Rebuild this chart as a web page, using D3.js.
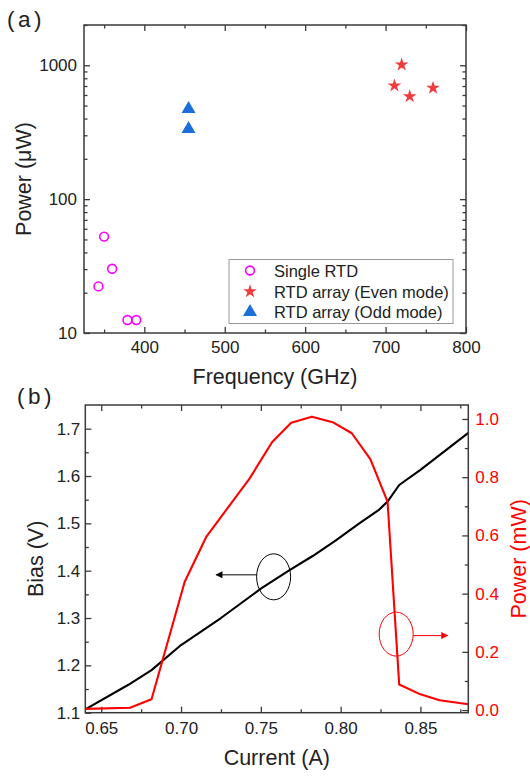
<!DOCTYPE html>
<html>
<head>
<meta charset="utf-8">
<script src="https://cdn.jsdelivr.net/npm/d3@7"></script>
<style>
  html, body { margin: 0; padding: 0; background: #fff; }
  svg { display: block; font-family: "Liberation Sans", Arial, sans-serif; }
</style>
</head>
<body>
<svg id="chart" width="530" height="777"></svg>
<script>
// ---- Panel (a): output power vs oscillation frequency ----
const freqSingle  = [350, 360, 343, 379, 390];
const powerSingle = [52.5, 30.2, 22.3, 12.5, 12.5];
const freqEven    = [720, 711, 730, 759];
const powerEven   = [1010, 705, 586, 677];
const freqOdd     = [455, 455];
const powerOdd    = [471, 334];
const freqTicks   = [400, 500, 600, 700, 800];
const freqMinor   = [350, 450, 550, 650, 750];
const powTicks    = [10, 100, 1000];
const legendLabels = ["Single RTD", "RTD array (Even mode)", "RTD array (Odd mode)"];

// ---- Panel (b): bias and power vs current ----
const currentBias = [0.640, 0.667, 0.6815, 0.700, 0.725, 0.750, 0.768, 0.7825, 0.797, 0.8117, 0.8242, 0.8294, 0.8367, 0.850, 0.880];
const bias        = [1.107, 1.159, 1.190, 1.243, 1.300, 1.362, 1.401, 1.431, 1.464, 1.500, 1.529, 1.546, 1.581, 1.613, 1.691];
const currentPow  = [0.640, 0.668, 0.6815, 0.7023, 0.7159, 0.743, 0.757, 0.769, 0.782, 0.795, 0.807, 0.8186, 0.8294, 0.8367, 0.850, 0.862, 0.880];
const powerMW     = [0.004, 0.008, 0.037, 0.441, 0.596, 0.796, 0.920, 0.987, 1.008, 0.989, 0.951, 0.862, 0.716, 0.088, 0.054, 0.034, 0.020];
const currentTicks = [0.65, 0.70, 0.75, 0.80, 0.85];
const currentMinor = [0.675, 0.725, 0.775, 0.825, 0.875];
const biasTicks    = [1.1, 1.2, 1.3, 1.4, 1.5, 1.6, 1.7];
const biasMinor    = [1.15, 1.25, 1.35, 1.45, 1.55, 1.65];
const pwTicks      = [0.0, 0.2, 0.4, 0.6, 0.8, 1.0];
const pwMinor      = [0.1, 0.3, 0.5, 0.7, 0.9];

const svg = d3.select("#chart");
const AX = "#3a3a3a";
const TICK_FS = 17, TITLE_FS = 21.5;

function styleAxis(g) {
  g.select(".domain").remove();
  g.selectAll(".tick line").attr("stroke", AX).attr("stroke-width", 1.3);
  g.selectAll(".tick text").attr("font-size", TICK_FS).attr("fill", "#222");
}

// ===== Panel (a) =====
const A = { l: 84, t: 25, r: 466, b: 333 };
const xa = d3.scaleLinear().domain([325, 800]).range([A.l, A.r]);
const ya = d3.scaleLog().domain([10, 2000]).range([A.b, A.t]);
const logMinor = [];
[10, 100, 1000].forEach(d => { for (let k = 2; k <= 9; k++) if (d * k <= 2000) logMinor.push(d * k); });

const ga = svg.append("g");
ga.append("g").attr("transform", `translate(0,${A.b})`)
  .call(d3.axisBottom(xa).tickValues(freqTicks).tickSize(-6).tickPadding(8).tickFormat(d3.format("d")))
  .call(styleAxis);
ga.append("g").attr("transform", `translate(0,${A.b})`)
  .call(d3.axisBottom(xa).tickValues(freqMinor).tickSize(-3.5).tickFormat("")).call(styleAxis);
ga.append("g").attr("transform", `translate(0,${A.t})`)
  .call(d3.axisTop(xa).tickValues(freqTicks).tickSize(-6).tickFormat("")).call(styleAxis);
ga.append("g").attr("transform", `translate(0,${A.t})`)
  .call(d3.axisTop(xa).tickValues(freqMinor).tickSize(-3.5).tickFormat("")).call(styleAxis);
ga.append("g").attr("transform", `translate(${A.l},0)`)
  .call(d3.axisLeft(ya).tickValues(powTicks).tickSize(-6).tickPadding(7).tickFormat(d3.format("d")))
  .call(styleAxis);
ga.append("g").attr("transform", `translate(${A.l},0)`)
  .call(d3.axisLeft(ya).tickValues(logMinor).tickSize(-3.5).tickFormat("")).call(styleAxis);
ga.append("g").attr("transform", `translate(${A.r},0)`)
  .call(d3.axisRight(ya).tickValues(powTicks).tickSize(-6).tickFormat("")).call(styleAxis);
ga.append("g").attr("transform", `translate(${A.r},0)`)
  .call(d3.axisRight(ya).tickValues(logMinor).tickSize(-3.5).tickFormat("")).call(styleAxis);
ga.append("rect").attr("x", A.l).attr("y", A.t).attr("width", A.r - A.l).attr("height", A.b - A.t)
  .attr("fill", "none").attr("stroke", AX).attr("stroke-width", 1.5);

// markers
const starPath = d3.symbol().type(d3.symbolStar).size(58)();
const triPath = d3.symbol().type(d3.symbolTriangle).size(85)();
const COL_SINGLE = "#ff00ff", COL_EVEN = "#f03c3c", COL_ODD = "#1c6fd8";

ga.selectAll("circle.single").data(freqSingle).join("circle")
  .attr("cx", d => xa(d)).attr("cy", (d, i) => ya(powerSingle[i])).attr("r", 4.4)
  .attr("fill", "none").attr("stroke", COL_SINGLE).attr("stroke-width", 1.6);
ga.selectAll("path.even").data(freqEven).join("path")
  .attr("d", starPath).attr("transform", (d, i) => `translate(${xa(d)},${ya(powerEven[i])})`)
  .attr("fill", COL_EVEN);
ga.selectAll("path.odd").data(freqOdd).join("path")
  .attr("d", triPath).attr("transform", (d, i) => `translate(${xa(d)},${ya(powerOdd[i])})`)
  .attr("fill", COL_ODD);

// legend
const lg = ga.append("g");
lg.append("rect").attr("x", 229).attr("y", 259.5).attr("width", 224).attr("height", 64)
  .attr("fill", "#fff").attr("stroke", "#999").attr("stroke-width", 1);
const rowY = [270.5, 291.5, 312];
lg.append("circle").attr("cx", 250).attr("cy", rowY[0]).attr("r", 4.4)
  .attr("fill", "none").attr("stroke", COL_SINGLE).attr("stroke-width", 1.6);
lg.append("path").attr("d", starPath).attr("transform", `translate(250,${rowY[1]})`).attr("fill", COL_EVEN);
lg.append("path").attr("d", triPath).attr("transform", `translate(250,${rowY[2]})`).attr("fill", COL_ODD);
lg.selectAll("text").data(legendLabels).join("text")
  .attr("x", 274).attr("y", (d, i) => rowY[i] + 6).attr("font-size", 16.5).attr("fill", "#222").text(d => d);

ga.append("text").attr("x", (A.l + A.r) / 2).attr("y", 384).attr("text-anchor", "middle")
  .attr("font-size", TITLE_FS).attr("fill", "#222").text("Frequency (GHz)");
ga.append("text").attr("transform", `translate(31,${(A.t + A.b) / 2}) rotate(-90)`).attr("text-anchor", "middle")
  .attr("font-size", TITLE_FS).attr("fill", "#222").text("Power (μW)");
svg.append("text").attr("x", 7).attr("y", 27).attr("font-size", 22.5).attr("letter-spacing", 3.5)
  .attr("fill", "#222").text("(a)");

// ===== Panel (b) =====
const B = { l: 85.3, t: 405, r: 468.3, b: 712.7 };
const xb = d3.scaleLinear().domain([0.64, 0.88]).range([B.l, B.r]);
const yb = d3.scaleLinear().domain([1.1, 1.75]).range([B.b, B.t]);
const yp = d3.scaleLinear().domain([-0.009, 1.048]).range([B.b, B.t]);

const gb = svg.append("g");
gb.append("g").attr("transform", `translate(0,${B.b})`)
  .call(d3.axisBottom(xb).tickValues(currentTicks).tickSize(-6).tickPadding(9).tickFormat(d3.format(".2f")))
  .call(styleAxis);
gb.append("g").attr("transform", `translate(0,${B.b})`)
  .call(d3.axisBottom(xb).tickValues(currentMinor).tickSize(-3.5).tickFormat("")).call(styleAxis);
gb.append("g").attr("transform", `translate(0,${B.t})`)
  .call(d3.axisTop(xb).tickValues(currentTicks).tickSize(-6).tickFormat("")).call(styleAxis);
gb.append("g").attr("transform", `translate(0,${B.t})`)
  .call(d3.axisTop(xb).tickValues(currentMinor).tickSize(-3.5).tickFormat("")).call(styleAxis);
gb.append("g").attr("transform", `translate(${B.l},0)`)
  .call(d3.axisLeft(yb).tickValues(biasTicks).tickSize(-6).tickPadding(5).tickFormat(d3.format(".1f")))
  .call(styleAxis);
gb.append("g").attr("transform", `translate(${B.l},0)`)
  .call(d3.axisLeft(yb).tickValues(biasMinor).tickSize(-3.5).tickFormat("")).call(styleAxis);
gb.append("g").attr("transform", `translate(${B.r},0)`)
  .call(d3.axisRight(yp).tickValues(pwTicks).tickSize(-6).tickPadding(7).tickFormat(d3.format(".1f")))
  .call(styleAxis)
  .call(g => g.selectAll(".tick text").attr("fill", "#ff0000"));
gb.append("g").attr("transform", `translate(${B.r},0)`)
  .call(d3.axisRight(yp).tickValues(pwMinor).tickSize(-3.5).tickFormat("")).call(styleAxis);

const lineBias = d3.line().x(d => xb(d[0])).y(d => yb(d[1]));
const linePow = d3.line().x(d => xb(d[0])).y(d => yp(d[1]));
gb.append("path").datum(currentBias.map((c, i) => [c, bias[i]]))
  .attr("d", lineBias).attr("fill", "none").attr("stroke", "#000").attr("stroke-width", 2.1)
  .attr("stroke-linejoin", "round");
gb.append("path").datum(currentPow.map((c, i) => [c, powerMW[i]]))
  .attr("d", linePow).attr("fill", "none").attr("stroke", "#ff0000").attr("stroke-width", 2.1)
  .attr("stroke-linejoin", "round");

gb.append("rect").attr("x", B.l).attr("y", B.t).attr("width", B.r - B.l).attr("height", B.b - B.t)
  .attr("fill", "none").attr("stroke", AX).attr("stroke-width", 1.5);

// series annotations: ellipse around each curve with an arrow pointing to its axis
const defs = svg.append("defs");
[["arrBlack", "#000"], ["arrRed", "#ff0000"]].forEach(([id, c]) => {
  defs.append("marker").attr("id", id).attr("viewBox", "0 0 10 10").attr("refX", 9).attr("refY", 5)
    .attr("markerWidth", 9).attr("markerHeight", 7).attr("markerUnits", "userSpaceOnUse").attr("orient", "auto")
    .append("path").attr("d", "M0,0 L10,5 L0,10 Z").attr("fill", c);
});
const bx = xb(0.758), by = yb(1.387);
gb.append("ellipse").attr("cx", bx).attr("cy", by).attr("rx", 17).attr("ry", 23)
  .attr("fill", "none").attr("stroke", "#000").attr("stroke-width", 1);
gb.append("line").attr("x1", bx - 17).attr("y1", by - 2).attr("x2", xb(0.722)).attr("y2", by - 2)
  .attr("stroke", "#000").attr("stroke-width", 1).attr("marker-end", "url(#arrBlack)");
const rx = xb(0.8348), ry = yp(0.261);
gb.append("ellipse").attr("cx", rx).attr("cy", ry).attr("rx", 17).attr("ry", 22)
  .attr("fill", "none").attr("stroke", "#ff0000").attr("stroke-width", 1);
gb.append("line").attr("x1", rx + 17).attr("y1", ry + 1.5).attr("x2", xb(0.867)).attr("y2", ry + 1.5)
  .attr("stroke", "#ff0000").attr("stroke-width", 1).attr("marker-end", "url(#arrRed)");

gb.append("text").attr("x", (B.l + B.r) / 2).attr("y", 765).attr("text-anchor", "middle")
  .attr("font-size", TITLE_FS).attr("fill", "#222").text("Current (A)");
gb.append("text").attr("transform", `translate(43,${(B.t + B.b) / 2}) rotate(-90)`).attr("text-anchor", "middle")
  .attr("font-size", TITLE_FS).attr("fill", "#222").text("Bias (V)");
gb.append("text").attr("transform", `translate(526,${(B.t + B.b) / 2}) rotate(-90)`).attr("text-anchor", "middle")
  .attr("font-size", TITLE_FS).attr("fill", "#ff0000").text("Power (mW)");
svg.append("text").attr("x", 17).attr("y", 404).attr("font-size", 22.5).attr("letter-spacing", 3.5)
  .attr("fill", "#222").text("(b)");
</script>
</body>
</html>
